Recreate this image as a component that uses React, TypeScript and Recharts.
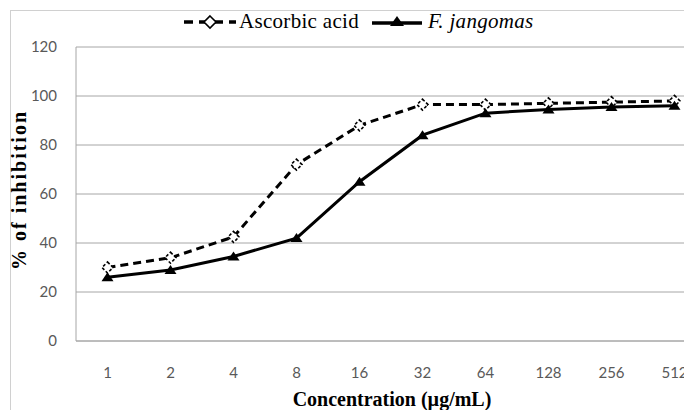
import React from "react";
import { LineChart, Line, XAxis, YAxis, CartesianGrid } from "recharts";

const concentrations = ["1", "2", "4", "8", "16", "32", "64", "128", "256", "512"];
const ascorbicAcid = [30, 34, 42.5, 72, 88, 96.5, 96.5, 97, 97.5, 98];
const fJangomas = [26, 29, 34.5, 42, 65, 84, 93, 94.5, 95.5, 96];
const yTicks = [0, 20, 40, 60, 80, 100, 120];

const data = concentrations.map((c, i) => ({
  conc: c,
  ascorbic: ascorbicAcid[i],
  jangomas: fJangomas[i],
}));

const serif = "'Liberation Serif', 'Times New Roman', serif";
const tickFont = "Lato, 'Open Sans', sans-serif";

function DiamondDot(props: any) {
  const { cx, cy } = props;
  if (cx == null || cy == null) return null;
  const r = 5.5;
  return (
    <path
      d={`M${cx},${cy - r} L${cx + r},${cy} L${cx},${cy + r} L${cx - r},${cy} Z`}
      fill="#fff"
      stroke="#000"
      strokeWidth={1.6}
      strokeDasharray="3 2"
    />
  );
}

function TriangleDot(props: any) {
  const { cx, cy } = props;
  if (cx == null || cy == null) return null;
  return <path d={`M${cx},${cy - 5} L${cx + 6},${cy + 4} L${cx - 6},${cy + 4} Z`} fill="#000" />;
}

function TopLegend() {
  return (
    <div
      style={{
        position: "absolute",
        left: 183,
        top: 9,
        display: "flex",
        alignItems: "center",
        fontFamily: serif,
        fontSize: 21,
        letterSpacing: 0.3,
        color: "#000",
        whiteSpace: "nowrap",
      }}
    >
      <svg width={54} height={16}>
        <line x1={1} y1={8} x2={53} y2={8} stroke="#000" strokeWidth={3.5} strokeDasharray="9 6" />
        <path d="M27,2 L33,8 L27,14 L21,8 Z" fill="#fff" stroke="#000" strokeWidth={1.6} />
      </svg>
      <span style={{ marginLeft: 2 }}>Ascorbic acid</span>
      <svg width={50} height={16} style={{ marginLeft: 13 }}>
        <line x1={0} y1={9} x2={50} y2={9} stroke="#000" strokeWidth={3.5} />
        <path d="M25,2 L32,12 L18,12 Z" fill="#000" />
      </svg>
      <span style={{ marginLeft: 6, fontStyle: "italic" }}>F. jangomas</span>
    </div>
  );
}

export default function App() {
  return (
    <div
      style={{
        position: "fixed",
        left: 0,
        top: 0,
        width: 684,
        height: 410,
        overflow: "hidden",
        background: "#fff",
      }}
    >
      <div
        style={{
          position: "absolute",
          left: 10,
          top: 10,
          width: 800,
          height: 500,
          borderLeft: "1px solid #d0d0d0",
          borderTop: "1px solid #d0d0d0",
        }}
      />
      <div style={{ position: "absolute", left: 0, top: 0 }}>
        <LineChart
          width={720}
          height={420}
          data={data}
          margin={{ top: 47, right: 14, bottom: 0, left: 0 }}
        >
          <CartesianGrid vertical={false} stroke="#a6a6a6" strokeWidth={1} />
          <XAxis
            dataKey="conc"
            height={79}
            padding={{ left: 31.5, right: 31.5 }}
            axisLine={{ stroke: "#a6a6a6" }}
            tickLine={false}
            tickMargin={20}
            tick={{ fill: "#595959", fontSize: 15, fontFamily: tickFont }}
            interval={0}
            label={{
              content: () => (
                <text
                  x={392}
                  y={406}
                  textAnchor="middle"
                  fontFamily={serif}
                  fontWeight="bold"
                  fontSize={20}
                  fill="#000"
                >
                  Concentration (µg/mL)
                </text>
              ),
            }}
          />
          <YAxis
            width={76}
            domain={[0, 120]}
            ticks={yTicks}
            axisLine={{ stroke: "#a6a6a6" }}
            tickLine={false}
            tickMargin={13}
            tick={{ fill: "#595959", fontSize: 15, fontFamily: tickFont }}
            label={{
              content: () => (
                <text
                  x={26}
                  y={190}
                  transform="rotate(-90 26 190)"
                  textAnchor="middle"
                  fontFamily={serif}
                  fontWeight="bold"
                  fontSize={20}
                  letterSpacing={2}
                  fill="#000"
                >
                  % of inhibition
                </text>
              ),
            }}
          />
          <Line
            type="linear"
            dataKey="ascorbic"
            name="Ascorbic acid"
            stroke="#000"
            strokeWidth={3}
            strokeDasharray="8 5"
            dot={<DiamondDot />}
            isAnimationActive={false}
          />
          <Line
            type="linear"
            dataKey="jangomas"
            name="F. jangomas"
            stroke="#000"
            strokeWidth={3}
            dot={<TriangleDot />}
            isAnimationActive={false}
          />
        </LineChart>
      </div>
      <TopLegend />
    </div>
  );
}
